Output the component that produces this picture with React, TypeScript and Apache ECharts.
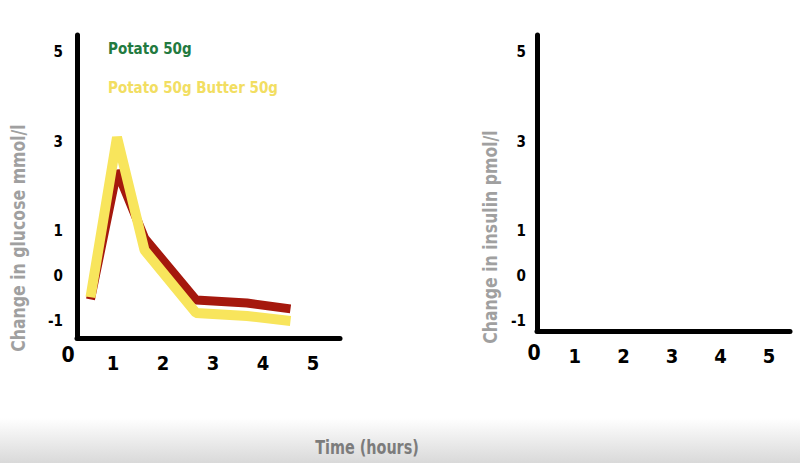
import React, { useEffect, useRef } from "react";
import * as echarts from "echarts";

// Data
const timeHours = [0.55, 1.08, 1.63, 2.66, 3.68, 4.55];
const potato50g = [-0.52, 2.35, 0.85, -0.53, -0.6, -0.73];
const potatoButter50g = [-0.47, 3.1, 0.58, -0.82, -0.89, -1.0];
const seriesNames = ["Potato 50g", "Potato 50g Butter 50g"];
const yTickValues = [-1, 0, 1, 3, 5];
const xTickValues = [1, 2, 3, 4, 5];
const originLabel = "0";
const glucoseAxisName = "Change in glucose mmol/l";
const insulinAxisName = "Change in insulin pmol/l";
const timeAxisName = "Time (hours)";

const FONT = "'DejaVu Sans Condensed', 'DejaVu Sans', sans-serif";

export default function App() {
  const ref = useRef<HTMLDivElement>(null);

  useEffect(() => {
    if (!ref.current) return;
    const chart = echarts.init(ref.current, null, { renderer: "svg" });

    const xAxisBase = (gridIndex: number, min: number, max: number) => ({
      gridIndex,
      type: "value",
      min,
      max,
      axisLine: { show: true, onZero: false, lineStyle: { color: "#000", width: 5 } },
      axisTick: { show: false },
      splitLine: { show: false },
      axisLabel: {
        customValues: xTickValues,
        margin: 15,
        fontSize: 20,
        fontWeight: "bold",
        color: "#000",
        fontFamily: FONT,
      },
    });

    const yAxisBase = (gridIndex: number, min: number, max: number, margin: number) => ({
      gridIndex,
      type: "value",
      min,
      max,
      axisLine: { show: true, onZero: false, lineStyle: { color: "#000", width: 5 } },
      axisTick: { show: false },
      splitLine: { show: false },
      axisLabel: {
        customValues: yTickValues,
        margin,
        fontSize: 15,
        fontWeight: "bold",
        color: "#000",
        fontFamily: FONT,
      },
    });

    const option: any = {
      animation: false,
      backgroundColor: "#ffffff",
      textStyle: { fontFamily: FONT },
      grid: [
        { left: 77, top: 35, width: 263, height: 303 },
        { left: 537, top: 35, width: 253, height: 296 },
      ],
      xAxis: [xAxisBase(0, 0.28, 5.54), xAxisBase(1, 0.22, 5.43)],
      yAxis: [yAxisBase(0, -1.38, 5.38, 14), yAxisBase(1, -1.23, 5.38, 11)],
      legend: {
        orient: "vertical",
        left: 97,
        top: 36,
        itemWidth: 0,
        itemHeight: 0,
        itemGap: 23,
        itemStyle: { opacity: 0 },
        lineStyle: { opacity: 0 },
        selectedMode: false,
        textStyle: { fontSize: 15, fontWeight: "bold", fontFamily: FONT, lineHeight: 16 },
        data: [
          { name: seriesNames[0], textStyle: { color: "#237a3f" } },
          { name: seriesNames[1], textStyle: { color: "#f2de62" } },
        ],
      },
      series: [
        {
          type: "line",
          name: seriesNames[0],
          xAxisIndex: 0,
          yAxisIndex: 0,
          data: timeHours.map((t, i) => [t, potato50g[i]]),
          symbol: "none",
          showSymbol: false,
          lineStyle: { color: "#a5180d", width: 9, join: "bevel" },
          itemStyle: { color: "#a5180d" },
          z: 2,
        },
        {
          type: "line",
          name: seriesNames[1],
          xAxisIndex: 0,
          yAxisIndex: 0,
          data: timeHours.map((t, i) => [t, potatoButter50g[i]]),
          symbol: "none",
          showSymbol: false,
          lineStyle: { color: "#f8e55c", width: 10, join: "bevel" },
          itemStyle: { color: "#f8e55c" },
          z: 3,
        },
      ],
      graphic: [
        {
          type: "rect",
          silent: true,
          z: -10,
          shape: { x: 0, y: 418, width: 800, height: 45 },
          style: {
            fill: new echarts.graphic.LinearGradient(0, 0, 0, 1, [
              { offset: 0, color: "#ffffff" },
              { offset: 1, color: "#d9d9d9" },
            ]),
          },
        },
        {
          type: "text",
          x: 18,
          y: 238,
          rotation: Math.PI / 2,
          scaleX: 0.92,
          style: {
            text: glucoseAxisName,
            fill: "#a0a0a0",
            font: `bold 19px ${FONT}`,
            align: "center",
            verticalAlign: "middle",
          },
        },
        {
          type: "text",
          x: 490,
          y: 237,
          rotation: Math.PI / 2,
          scaleX: 0.92,
          style: {
            text: insulinAxisName,
            fill: "#a0a0a0",
            font: `bold 19px ${FONT}`,
            align: "center",
            verticalAlign: "middle",
          },
        },
        {
          type: "text",
          x: 367,
          y: 447,
          scaleX: 0.8,
          style: {
            text: timeAxisName,
            fill: "#7c7c7c",
            font: `bold 20px ${FONT}`,
            align: "center",
            verticalAlign: "middle",
          },
        },
        {
          type: "text",
          x: 68,
          y: 355,
          style: {
            text: originLabel,
            fill: "#000",
            font: `bold 21px ${FONT}`,
            align: "center",
            verticalAlign: "middle",
          },
        },
        {
          type: "text",
          x: 534,
          y: 353,
          style: {
            text: originLabel,
            fill: "#000",
            font: `bold 21px ${FONT}`,
            align: "center",
            verticalAlign: "middle",
          },
        },
      ],
    };

    chart.setOption(option);
    return () => chart.dispose();
  }, []);

  return (
    <div
      ref={ref}
      style={{ position: "fixed", left: 0, top: 0, width: 800, height: 463 }}
    />
  );
}
